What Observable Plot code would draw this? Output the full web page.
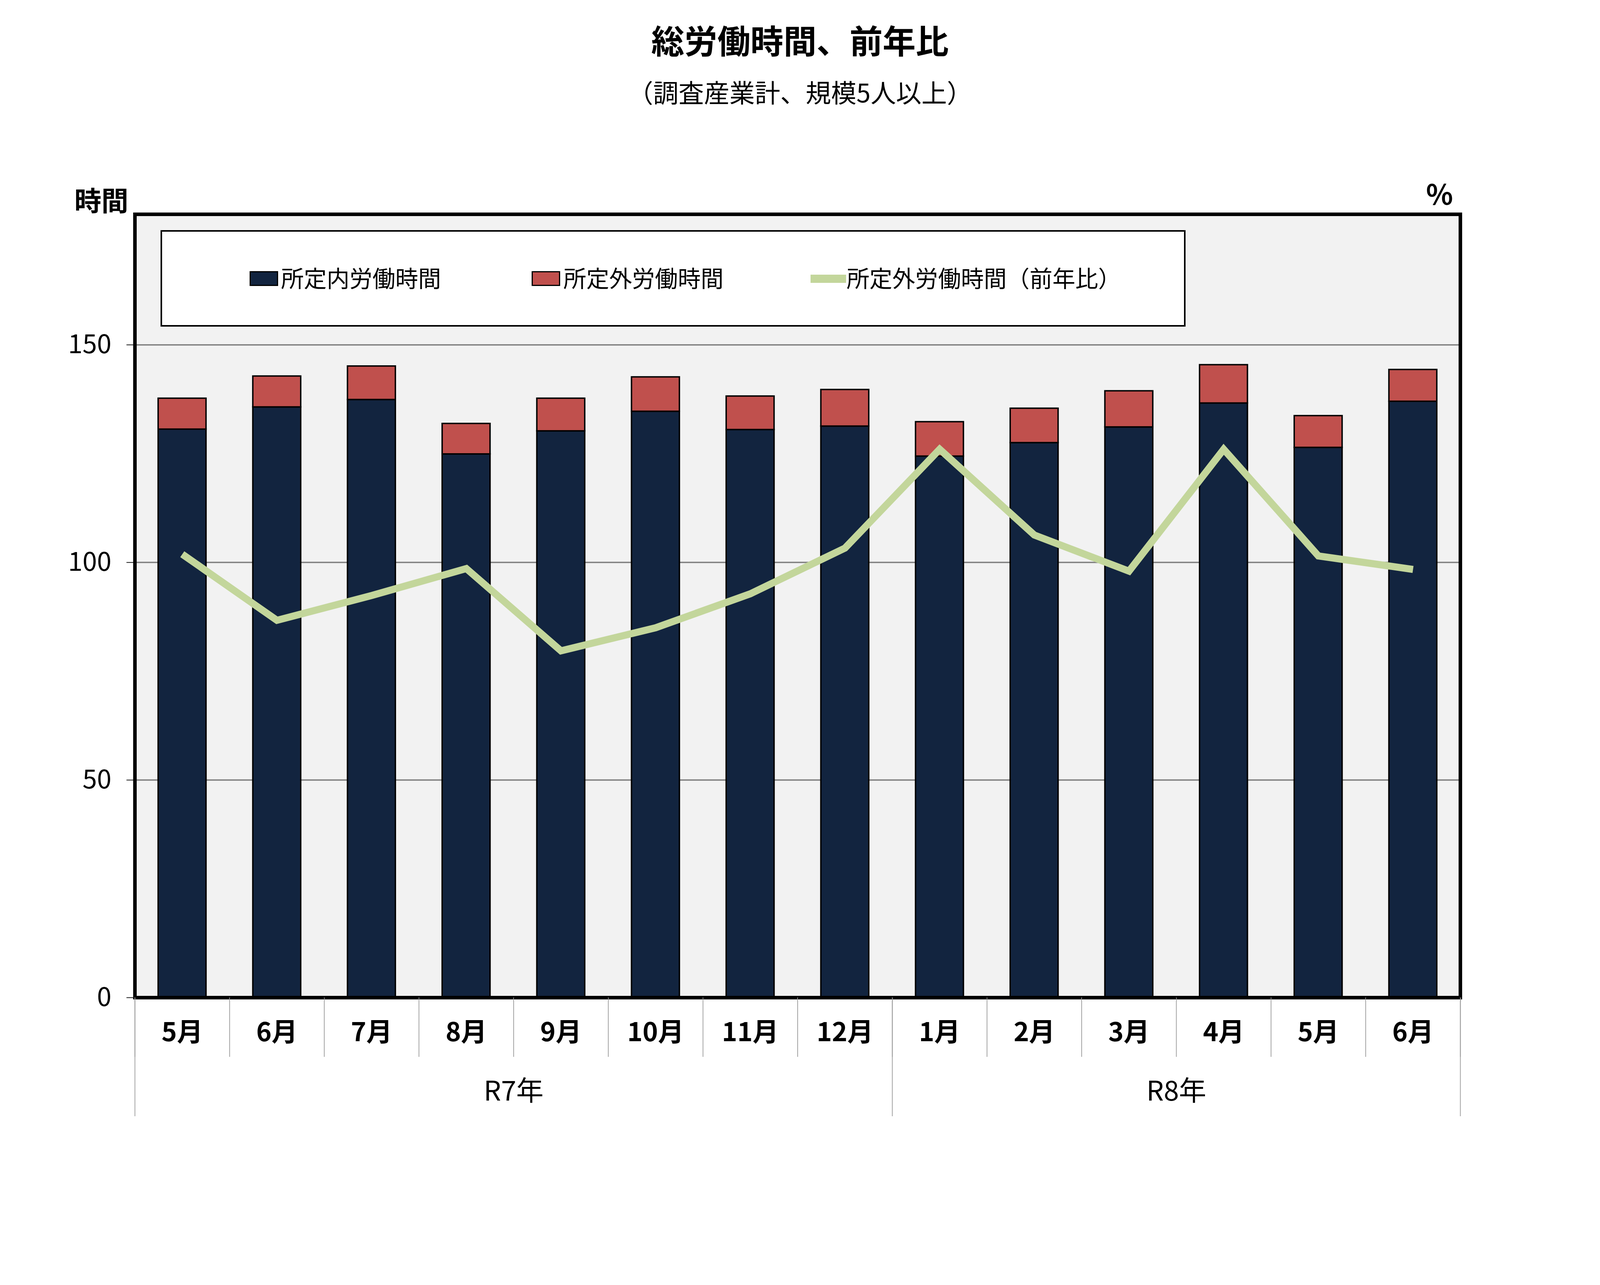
<!DOCTYPE html>
<html>
<head>
<meta charset="utf-8">
<script src="https://cdn.jsdelivr.net/npm/d3@7"></script>
<script src="https://cdn.jsdelivr.net/npm/@observablehq/plot@0.6"></script>
<style>
html, body { margin: 0; padding: 0; background: #fff; overflow: hidden; }
#page { position: relative; overflow: hidden;
  font-family: "Noto Sans CJK JP", "Noto Sans", sans-serif; color: #000; background: #fff; }
.t { position: absolute; white-space: nowrap; line-height: 1; }
#chart svg { position: absolute; left: 0; top: 0; }
</style>
</head>
<body>
<div id="page">
  <div id="chart"></div>
</div>
<script>
// ---- data ----
const months = ["5月","6月","7月","8月","9月","10月","11月","12月","1月","2月","3月","4月","5月","6月"];
const years  = ["R7年","R7年","R7年","R7年","R7年","R7年","R7年","R7年","R8年","R8年","R8年","R8年","R8年","R8年"];
const scheduledHours = [130.6, 135.7, 137.4, 124.9, 130.2, 134.7, 130.5, 131.3, 124.4, 127.5, 131.1, 136.6, 126.4, 137.0];
const overtimeHours  = [7.1, 7.1, 7.7, 7.0, 7.5, 7.9, 7.7, 8.4, 7.9, 7.9, 8.3, 8.8, 7.3, 7.3];
const overtimeYoY    = [101.9, 86.7, 92.4, 98.6, 79.7, 85.0, 92.8, 103.3, 126.0, 106.3, 98.0, 126.0, 101.5, 98.4];
const yTicks = [0, 50, 100, 150];
const seriesNames = ["所定内労働時間", "所定外労働時間", "所定外労働時間（前年比）"];
const seriesColors = ["#12243F", "#C0504D", "#C3D69B"];
const titleText = "総労働時間、前年比";
const subtitleText = "（調査産業計、規模5人以上）";
const yUnitLeft = "時間";
const yUnitRight = "%";

// ---- derived table ----
const rows = months.map((m, i) => ({
  i, month: m, year: years[i],
  inner: scheduledHours[i],
  total: scheduledHours[i] + overtimeHours[i],
  yoy: overtimeYoY[i]
}));
const half = 0.253;
const monthBounds = d3.range(months.length + 1).map(k => k - 0.5);
const yearGroups = Array.from(d3.group(rows, d => d.year), ([year, rs]) => ({
  year,
  center: d3.mean(rs, r => r.i),
  lo: d3.min(rs, r => r.i) - 0.5,
  hi: d3.max(rs, r => r.i) + 0.5
}));
const yearBounds = Array.from(new Set(yearGroups.flatMap(g => [g.lo, g.hi])));

// ---- layout: designed for 5035x3289, adapted to the real viewport ----
const W = 5035, H = 3289;
const vw = window.innerWidth || W, vh = window.innerHeight || H;
const sx = Math.min(1, vw / W), sy = Math.min(1, vh / H);
const px = v => v * sx, py = v => v * sy, fs = v => v * sx;
const sw = v => v * (sx + sy) / 2;

const page = document.getElementById("page");
page.style.width = px(W) + "px";
page.style.height = py(H) + "px";

const chart = Plot.plot({
  width: Math.round(px(W)),
  height: Math.round(py(H)),
  marginTop: py(548),
  marginLeft: px(424),
  marginRight: px(440),
  marginBottom: py(736),
  style: { fontFamily: '"Noto Sans CJK JP", "Noto Sans", sans-serif', fontSize: fs(82) + "px", background: "transparent", color: "#000" },
  x: { type: "linear", domain: [-0.5, months.length - 0.5], axis: null },
  y: { domain: [0, 180], axis: null },
  marks: [
    Plot.frame({ fill: "#F2F2F2" }),
    Plot.gridY(yTicks.filter(v => v > 0), { stroke: "#808080", strokeOpacity: 1, strokeWidth: py(3.5) }),
    Plot.rectY(rows, { x1: d => d.i - half, x2: d => d.i + half, y1: 0, y2: "inner",
      fill: seriesColors[0], stroke: "#000", strokeWidth: sw(4) }),
    Plot.rectY(rows, { x1: d => d.i - half, x2: d => d.i + half, y1: "inner", y2: "total",
      fill: seriesColors[1], stroke: "#000", strokeWidth: sw(4) }),
    Plot.line(rows, { x: "i", y: "yoy", stroke: seriesColors[2], strokeWidth: sw(20),
      strokeLinejoin: "miter", strokeMiterlimit: 10, strokeLinecap: "butt" }),
    Plot.frame({ stroke: "#000", strokeWidth: sw(10) }),
    Plot.axisY(yTicks, { tickSize: px(26), tickPadding: px(48), fontSize: fs(82), stroke: "#000", strokeWidth: sw(2), label: null }),
    Plot.ruleX(monthBounds, { x: d => d, y1: 0, y2: 0, insetBottom: -py(152), stroke: "#9a9a9a", strokeWidth: sw(2) }),
    Plot.ruleX(yearBounds, { x: d => d, y1: 0, y2: 0, insetBottom: -py(304), stroke: "#9a9a9a", strokeWidth: sw(2) }),
    Plot.text(rows, { x: "i", y: 0, text: "month", dy: py(90), fontSize: fs(82), fontWeight: "bold", fill: "#000", lineAnchor: "middle" }),
    Plot.text(yearGroups, { x: "center", y: 0, text: "year", dy: py(241), fontSize: fs(86), fill: "#000", lineAnchor: "middle" })
  ]
});
document.getElementById("chart").appendChild(chart);

// ---- html text: titles, units, legend ----
function addText(txt, opts) {
  const d = document.createElement("div");
  d.className = "t";
  d.textContent = txt;
  Object.assign(d.style, opts);
  page.appendChild(d);
  return d;
}
// top of a line box (line-height 1) whose CJK glyphs are centred at `center`
function cy(center, size) { return (py(center) - 0.556 * fs(size)) + "px"; }

addText(titleText, { left: "0px", width: px(W) + "px", textAlign: "center", top: cy(105, 104), fontSize: fs(104) + "px", fontWeight: "bold" });
addText(subtitleText, { left: "0px", width: px(W) + "px", textAlign: "center", top: cy(238, 80), fontSize: fs(80) + "px" });
addText(yUnitLeft, { left: "0px", width: px(404) + "px", textAlign: "right", top: cy(514, 85), fontSize: fs(85) + "px", fontWeight: "bold" });
addText(yUnitRight, { left: px(4430) + "px", width: px(200) + "px", textAlign: "center", top: cy(498, 88), fontSize: fs(88) + "px", fontWeight: "bold" });

// legend box
const box = document.createElement("div");
Object.assign(box.style, { position: "absolute", left: px(505) + "px", top: py(589) + "px", width: px(3226) + "px", height: py(247) + "px",
  boxSizing: "border-box", border: sw(5) + "px solid #000", background: "#fff" });
page.appendChild(box);

const legendItems = [
  { name: seriesNames[0], color: seriesColors[0], kind: "box", sx: 785, tx: 884 },
  { name: seriesNames[1], color: seriesColors[1], kind: "box", sx: 1673, tx: 1773 },
  { name: seriesNames[2], color: seriesColors[2], kind: "line", sx: 2551, tx: 2664 }
];
legendItems.forEach(it => {
  const s = document.createElement("div");
  if (it.kind === "box") {
    Object.assign(s.style, { position: "absolute", left: px(it.sx) + "px", top: py(694) + "px", width: px(90) + "px", height: py(38) + "px",
      boxSizing: "border-box", border: sw(4) + "px solid #000", background: it.color });
  } else {
    Object.assign(s.style, { position: "absolute", left: px(it.sx) + "px", top: py(703) + "px", width: px(112) + "px", height: py(21) + "px",
      background: it.color });
  }
  page.appendChild(s);
  addText(it.name, { left: px(it.tx) + "px", top: cy(714, 72), fontSize: fs(72) + "px" });
});
</script>
</body>
</html>
